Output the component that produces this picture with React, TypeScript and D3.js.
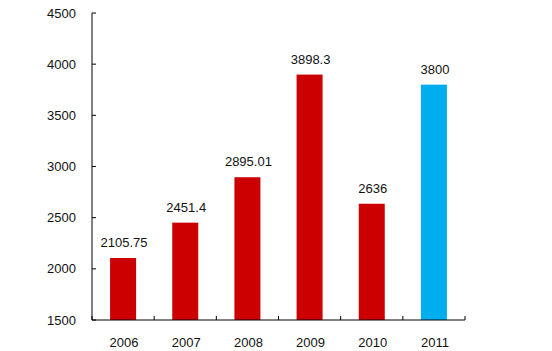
import * as d3 from "d3";
import React, { useEffect, useRef } from "react";

const years = ["2006", "2007", "2008", "2009", "2010", "2011"];
const values = [2105.75, 2451.4, 2895.01, 3898.3, 2636, 3800];
const valueLabels = ["2105.75", "2451.4", "2895.01", "3898.3", "2636", "3800"];
const yTicks = [1500, 2000, 2500, 3000, 3500, 4000, 4500];

const App = () => {
  const svgRef = useRef<SVGSVGElement>(null);

  useEffect(() => {
    const svg = d3.select(svgRef.current);
    svg.selectAll("*").remove();

    const left = 92;
    const right = 465;
    const top = 13;
    const bottom = 320;

    const x = d3.scaleBand().domain(years).range([left, right]).paddingInner(0.58).paddingOuter(0.29);
    const band = d3.scaleBand().domain(years).range([left, right]);
    const y = d3.scaleLinear().domain([1500, 4500]).range([bottom, top]);

    const font = "Arial, 'Liberation Sans', sans-serif";

    // bars
    svg
      .selectAll(".bar")
      .data(values)
      .enter()
      .append("rect")
      .attr("x", (d, i) => band(years[i])! + band.bandwidth() / 2 - 13)
      .attr("width", 26)
      .attr("y", (d) => y(d))
      .attr("height", (d) => bottom - y(d))
      .attr("fill", (d, i) => (i === years.length - 1 ? "#00AEEF" : "#CC0000"));

    // value labels
    svg
      .selectAll(".val")
      .data(values)
      .enter()
      .append("text")
      .attr("x", (d, i) => band(years[i])! + band.bandwidth() / 2 + 1)
      .attr("y", (d) => y(d) - 11)
      .attr("text-anchor", "middle")
      .attr("font-family", font)
      .attr("font-size", 13)
      .attr("fill", "#111")
      .text((d, i) => valueLabels[i]);

    // y axis
    svg
      .append("line")
      .attr("x1", left)
      .attr("x2", left)
      .attr("y1", top)
      .attr("y2", bottom)
      .attr("stroke", "#000");
    yTicks.forEach((t) => {
      svg
        .append("line")
        .attr("x1", left)
        .attr("x2", left + 4)
        .attr("y1", y(t))
        .attr("y2", y(t))
        .attr("stroke", "#000");
      svg
        .append("text")
        .attr("x", 76)
        .attr("y", y(t) + 4.5)
        .attr("text-anchor", "end")
        .attr("font-family", font)
        .attr("font-size", 13)
        .attr("fill", "#111")
        .text(t);
    });

    // x axis
    svg
      .append("line")
      .attr("x1", left)
      .attr("x2", right)
      .attr("y1", bottom)
      .attr("y2", bottom)
      .attr("stroke", "#000");
    const bounds = years.map((yr) => band(yr)!).concat([right]);
    bounds.forEach((b) => {
      svg
        .append("line")
        .attr("x1", b)
        .attr("x2", b)
        .attr("y1", bottom)
        .attr("y2", bottom - 4)
        .attr("stroke", "#000");
    });
    svg
      .selectAll(".xl")
      .data(years)
      .enter()
      .append("text")
      .attr("x", (d) => band(d)! + band.bandwidth() / 2 + 1)
      .attr("y", 347)
      .attr("text-anchor", "middle")
      .attr("font-family", font)
      .attr("font-size", 13)
      .attr("fill", "#111")
      .text((d) => d);
  }, []);

  return (
    <svg
      ref={svgRef}
      width="552"
      height="351"
      style={{ position: "absolute", left: 0, top: 0, background: "#fff" }}
    ></svg>
  );
};

export default App;
